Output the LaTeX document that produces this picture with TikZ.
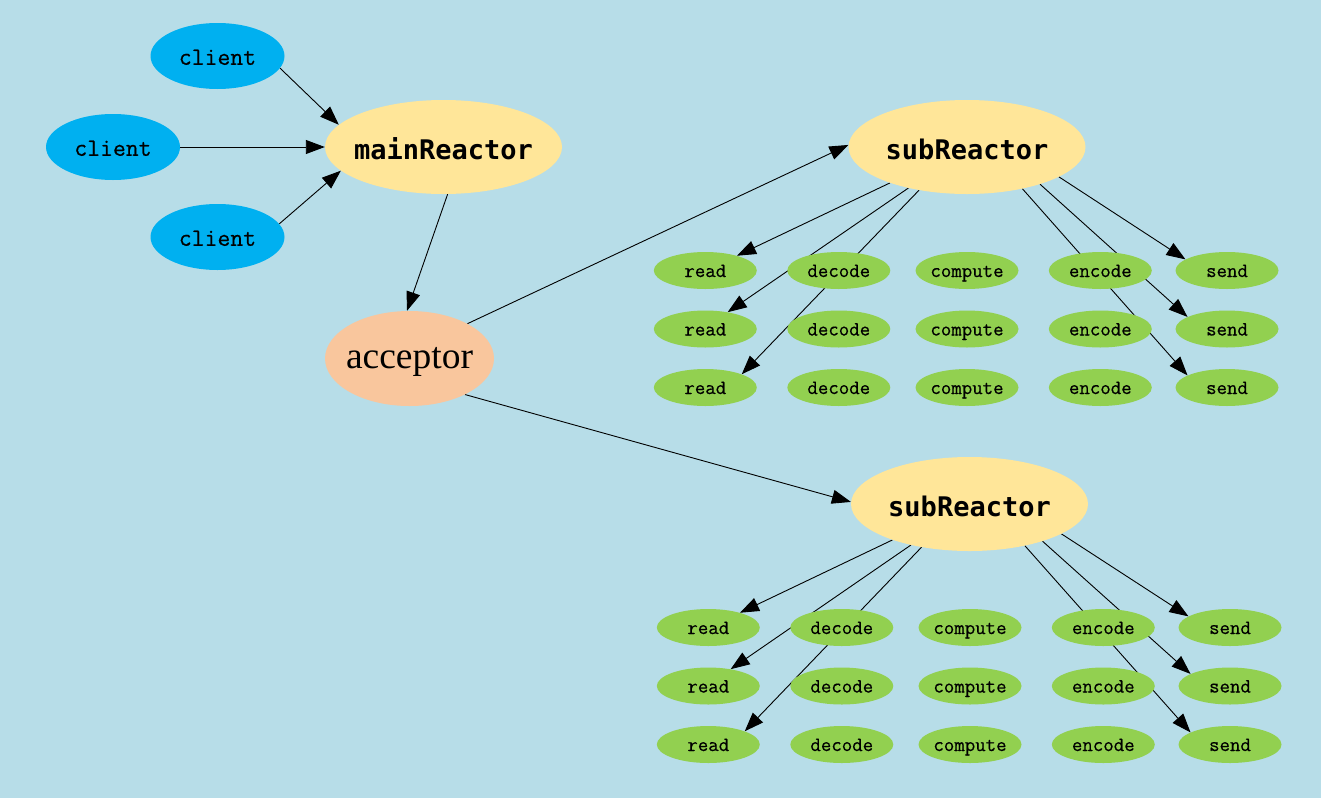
\documentclass[tikz,border=0pt]{standalone}
\usepackage{fontspec}
\usetikzlibrary{shapes.geometric,arrows.meta}
\newfontfamily\monofont{Latin Modern Mono}[BoldFont={Latin Modern Mono}, BoldFeatures={FakeBold=0.5}]
\newfontfamily\boldmono{DejaVu Sans Mono}
\newfontfamily\seriffont{Liberation Serif}
\definecolor{bgblue}{HTML}{B7DDE8}
\definecolor{cliblue}{HTML}{00B0F0}
\definecolor{reactor}{HTML}{FFE699}
\definecolor{accept}{HTML}{F9C69D}
\definecolor{leaf}{HTML}{92D050}
\newcommand{\ntxt}[1]{\makebox[0pt]{#1}}
\pgfdeclarelayer{bg}
\pgfdeclarelayer{edges}
\pgfsetlayers{bg,edges,main}
\tikzset{
  base/.style={ellipse, inner sep=0pt, draw=none, text=black, text depth=0pt},
  cli/.style={base, fill=cliblue, minimum width=134pt, minimum height=66pt,
    text height=17.6pt, font=\monofont\fontsize{25}{25}\selectfont},
  reac/.style={base, fill=reactor, minimum width=237pt, minimum height=94pt,
    text height=25pt, font=\boldmono\bfseries\fontsize{27}{27}\selectfont},
  acc/.style={base, fill=accept, minimum width=169pt, minimum height=95pt,
    text height=19.6pt, font=\seriffont\fontsize{37.5}{37.5}\selectfont},
  leafnode/.style={base, fill=leaf, minimum width=103pt, minimum height=37pt,
    text height=13pt, font=\monofont\fontsize{20.3}{20.3}\selectfont},
  arr/.style={line width=0.9pt, draw=black, -{Triangle[length=19pt,width=14pt]}}
}
\begin{document}
\begin{tikzpicture}[x=1pt,y=-1pt]
\begin{pgfonlayer}{bg}
  \fill[bgblue] (0,0) rectangle (1321,798);
\end{pgfonlayer}
\useasboundingbox (0,0) rectangle (1321,798);

\node[cli] (c1) at (217.5,56) {\ntxt{\bfseries client}};
\node[cli] (c2) at (113,147) {\ntxt{\bfseries client}};
\node[cli] (c3) at (217.5,237) {\ntxt{\bfseries client}};
\node[reac] (main) at (443.5,147) {\ntxt{mainReactor}};
\node[acc] (acc) at (409.5,358.5) {\ntxt{acceptor}};
\node[reac] (sub1) at (967,147) {\ntxt{subReactor}};
\node[reac] (sub2) at (969.5,504) {\ntxt{subReactor}};

\foreach \g/\dx/\dy in {1/0/0, 2/3/357} {
  \foreach \col/\x/\lab in {r/705.3/read, d/838.8/decode, c/967/compute, e/1100.3/encode, s/1227/send} {
    \foreach \row/\y in {1/270.5, 2/329, 3/387.5} {
      \node[leafnode] (\col\g\row) at (\x+\dx, \y+\dy) {\ntxt{\bfseries\lab}};
    }
  }
}

\begin{pgfonlayer}{edges}
  \draw[arr] (c1.-11) -- (main.168);
  \draw[arr] (c2) -- (main);
  \draw[arr] (c3.12) -- (main.193);
  \draw[arr] (main.275) -- (acc.93);
  \draw[arr] (acc.31) -- (sub1.179);
  \draw[arr] (acc.-33) -- (sub2.179);
  \foreach \g in {1,2} {
    \draw[arr] (sub\g.205) -- (r\g1.25);
    \draw[arr] (sub\g.215) -- (r\g2.37);
    \draw[arr] (sub\g.222) -- (r\g3.20);
    \draw[arr] (sub\g.342) -- (s\g1.165);
    \draw[arr] (sub\g.333) -- (s\g2.163);
    \draw[arr] (sub\g.323) -- (s\g3.163);
  }
\end{pgfonlayer}
\end{tikzpicture}
\end{document}
